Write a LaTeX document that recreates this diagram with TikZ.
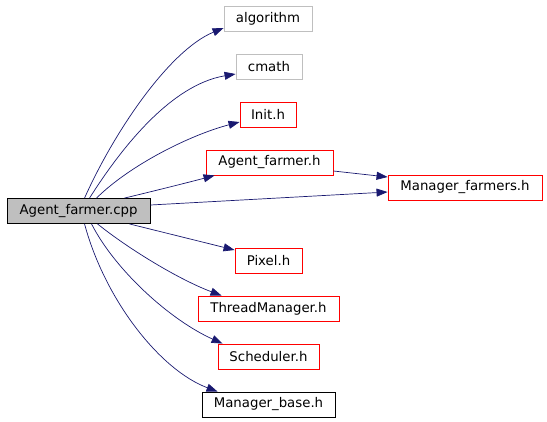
\documentclass[tikz,border=0pt]{standalone}
\usepackage{fontspec}
\setmainfont{DejaVu Sans}
\usetikzlibrary{arrows.meta}
\definecolor{edgeblue}{HTML}{191970}
\definecolor{boxgray}{HTML}{BFBFBF}
\tikzset{
  inc/.style={rectangle, draw=red, line width=0.9pt, minimum height=25pt, inner sep=0pt, font=\fontsize{13.3}{15}\selectfont},
  sysinc/.style={inc, draw=boxgray},
  plain/.style={inc, draw=black},
  root/.style={inc, draw=black, fill=boxgray},
  dep/.style={draw=edgeblue, line width=0.7pt, -{Triangle[length=11pt,width=8pt]}}
}
\begin{document}
\begin{tikzpicture}[x=1pt,y=-1pt]
\useasboundingbox (0,0) rectangle (547,421);
\node[root, minimum width=143pt] (cpp) at (78.5,211) {Agent\_farmer.cpp\hspace{5pt}};
\node[sysinc, minimum width=88pt] (alg) at (268,18.5) {algorithm};
\node[sysinc, minimum width=66pt] (cmath) at (269,66.5) {cmath};
\node[inc, minimum width=56pt] (init) at (268,114.5) {Init.h};
\node[inc, minimum width=127pt] (afh) at (269.5,162.5) {Agent\_farmer.h\hspace{3pt}};
\node[inc, minimum width=154pt] (mf) at (465,187.5) {Manager\_farmers.h};
\node[inc, minimum width=67pt] (pix) at (268.5,260.5) {Pixel.h};
\node[inc, minimum width=141pt] (tm) at (268.5,308.5) {ThreadManager.h\hspace{5pt}};
\node[inc, minimum width=101pt] (sch) at (268.5,356.5) {Scheduler.h\hspace{3pt}};
\node[plain, minimum width=133pt] (mb) at (268.5,404.5) {Manager\_base.h\hspace{3pt}};

\draw[dep] ([xshift=78pt]cpp.north west) .. controls (115,130) and (170,50) .. ([yshift=-9.5pt]alg.west);
\draw[dep] ([xshift=83pt]cpp.north west) .. controls (120,150) and (170,85) .. ([yshift=-7.5pt]cmath.west);
\draw[dep] ([xshift=90pt]cpp.north west) .. controls (130,165) and (190,135) .. ([yshift=-7.5pt]init.west);
\draw[dep] ([xshift=118pt]cpp.north west) .. controls (150,192) and (190,182) .. ([xshift=9pt]afh.south west);
\draw[dep] ([yshift=6pt]cpp.east) -- ([yshift=-4.5pt]mf.west);
\draw[dep] ([yshift=-8.5pt]afh.east) -- ([yshift=10.5pt]mf.west);
\draw[dep] ([xshift=123pt]cpp.south west) -- ([yshift=10.5pt]pix.west);
\draw[dep] ([xshift=91pt]cpp.south west) .. controls (130,250) and (180,280) .. ([xshift=24pt]tm.north west);
\draw[dep] ([xshift=85pt]cpp.south west) .. controls (115,270) and (170,320) .. ([xshift=5pt]sch.north west);
\draw[dep] ([xshift=78pt]cpp.south west) .. controls (105,300) and (160,370) .. ([xshift=16pt]mb.north west);
\end{tikzpicture}
\end{document}
